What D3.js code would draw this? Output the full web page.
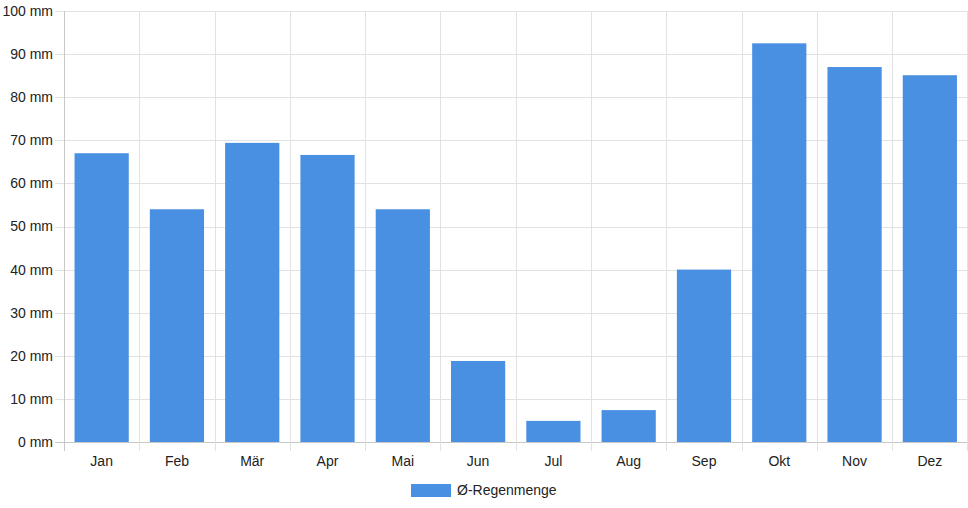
<!DOCTYPE html>
<html>
<head>
<meta charset="utf-8">
<script src="https://cdn.jsdelivr.net/npm/d3@7"></script>
<style>
  body { margin: 0; background: #fff; }
  svg text { font-family: "Liberation Sans", Arial, Helvetica, sans-serif; font-size: 14px; fill: #222; }
</style>
</head>
<body>
<svg id="chart" width="968" height="508"></svg>
<script>
// monthly averages
var months = ['Jan', 'Feb', 'Mär', 'Apr', 'Mai', 'Jun', 'Jul', 'Aug', 'Sep', 'Okt', 'Nov', 'Dez'];
var rain = [67, 54, 69.4, 66.6, 54, 18.8, 4.9, 7.4, 40, 92.5, 87, 85.1];
var yTicks = [0, 10, 20, 30, 40, 50, 60, 70, 80, 90, 100];
var seriesName = 'Ø-Regenmenge';

var svg = d3.select('#chart');
var pLeft = 64, pRight = 967.5, pTop = 11, pBottom = 442;

var x = d3.scaleBand().domain(months).range([pLeft, pRight]).paddingInner(0).paddingOuter(0);
var y = d3.scaleLinear().domain([0, 100]).range([pBottom, pTop]);

// horizontal grid
svg.append('g').selectAll('line').data(yTicks).enter().append('line')
    .attr('x1', pLeft - 9).attr('x2', pRight)
    .attr('y1', function(d){ return Math.round(y(d)) + 0.5 })
    .attr('y2', function(d){ return Math.round(y(d)) + 0.5 })
    .attr('stroke', function(d){ return d == 0 ? '#c8c8c8' : '#e2e2e2' });

// vertical grid
var vx = months.map(function(m){ return x(m) }).concat([pRight - 1]);
svg.append('g').selectAll('line').data(vx).enter().append('line')
    .attr('x1', function(d){ return Math.round(d) + 0.5 })
    .attr('x2', function(d){ return Math.round(d) + 0.5 })
    .attr('y1', pTop).attr('y2', pBottom + 9)
    .attr('stroke', function(d, i){ return i == 0 ? '#c8c8c8' : '#e2e2e2' });

// y labels
svg.append('g').selectAll('text').data(yTicks).enter().append('text')
    .attr('x', 53).attr('y', function(d){ return y(d) })
    .attr('dy', '0.35em').attr('text-anchor', 'end')
    .text(function(d){ return d + ' mm' });

// x labels
svg.append('g').selectAll('text').data(months).enter().append('text')
    .attr('x', function(d){ return x(d) + x.bandwidth() / 2 })
    .attr('y', 461).attr('dy', '0.35em').attr('text-anchor', 'middle')
    .text(function(d){ return d });

// bars
var bw = x.bandwidth() * 0.72;
svg.append('g').selectAll('rect').data(rain).enter().append('rect')
    .attr('x', function(d, i){ return x(months[i]) + (x.bandwidth() - bw) / 2 })
    .attr('y', function(d){ return y(d) })
    .attr('width', bw)
    .attr('height', function(d){ return y(0) - y(d) })
    .attr('fill', '#4a90e2');

// legend
var lg = svg.append('g');
lg.append('rect').attr('x', 411).attr('y', 484).attr('width', 40).attr('height', 13).attr('fill', '#4a90e2');
lg.append('text').attr('x', 457).attr('y', 490.5).attr('dy', '0.35em').text(seriesName);
</script>
</body>
</html>
